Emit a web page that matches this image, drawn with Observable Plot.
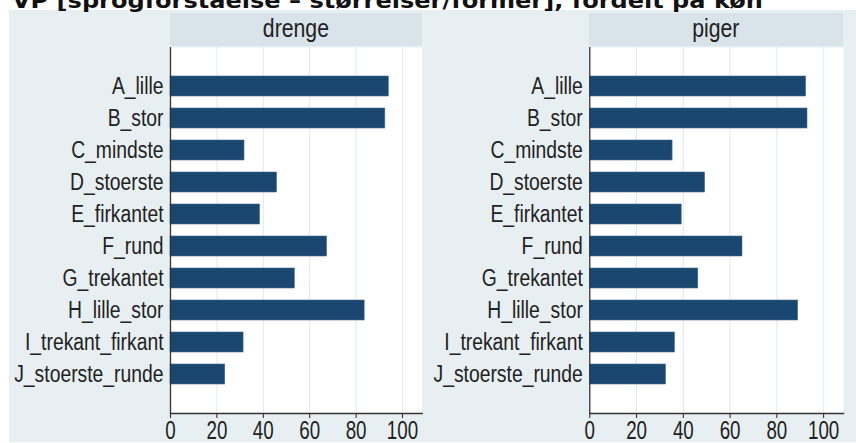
<!DOCTYPE html>
<html><head><meta charset="utf-8">
<script src="https://cdn.jsdelivr.net/npm/d3@7"></script>
<script src="https://cdn.jsdelivr.net/npm/@observablehq/plot@0.6"></script>
<style>
body{margin:0;background:#fff;}
#wrap{position:relative;width:856px;height:443px;overflow:hidden;background:#fff;}
#bg{position:absolute;left:9px;top:10px;width:847px;height:432px;background:#e8eff2;}
.strip{position:absolute;background:#d9e4ea;top:13px;height:33px;font-family:"Liberation Sans",Arial,sans-serif;font-size:25px;color:#222;text-align:center;line-height:31px;}
.strip span{display:inline-block;transform:scaleX(0.85);}
.panel{position:absolute;top:0;}
#title{position:absolute;left:0;top:0;}
</style></head><body>
<div id="wrap"><div id="bg"></div></div>
<script>
const titleText = "VP [sprogforståelse – størrelser/former], fordelt på køn";
const categories = ["A_lille","B_stor","C_mindste","D_stoerste","E_firkantet","F_rund","G_trekantet","H_lille_stor","I_trekant_firkant","J_stoerste_runde"];
const groups = ["drenge","piger"];
const drenge = [94.1, 92.6, 31.9, 45.9, 38.6, 67.5, 53.6, 83.7, 31.5, 23.6];
const piger  = [92.5, 93.1, 35.4, 49.3, 39.3, 65.3, 46.4, 89.1, 36.4, 32.6];
const xTicks = [0, 20, 40, 60, 80, 100];

const seriesByGroup = {drenge, piger};
const wrap = document.getElementById("wrap");
const font = '"Liberation Sans",Arial,sans-serif';

// layout of the two panels (page coordinates)
const panels = [
  {left: 0,   width: 428, marginLeft: 170,   marginRight: 6.3},
  {left: 428, width: 428, marginLeft: 161.3, marginRight: 13}
];

// horizontally condense text (the reference uses a narrow face)
function condense(textEl, s) {
  const L = textEl.getComputedTextLength();
  if (L > 0) {
    textEl.setAttribute("textLength", (L * s).toFixed(2));
    textEl.setAttribute("lengthAdjust", "spacingAndGlyphs");
  }
}

groups.forEach((g, i) => {
  const p = panels[i];
  const data = categories.map((c, k) => ({cat: c, value: seriesByGroup[g][k]}));
  const chart = Plot.plot({
    width: p.width, height: 443,
    marginLeft: p.marginLeft, marginRight: p.marginRight,
    marginTop: 47, marginBottom: 30,
    style: {background: "transparent", fontFamily: font, fontSize: "23px", color: "#222", overflow: "visible"},
    x: {domain: [0, 108.5], ticks: xTicks, label: null, tickSize: 5, tickPadding: 3},
    y: {domain: categories, paddingInner: 0.367, paddingOuter: 0.83, label: null, tickSize: 0, tickPadding: 7},
    marks: [
      Plot.frame({fill: "white", stroke: "none"}),
      Plot.gridX(xTicks.slice(1), {stroke: "#e1eaee", strokeOpacity: 1}),
      Plot.barX(data, {x: "value", y: "cat", fill: "#1a476f", stroke: "#4a6f90", strokeWidth: 0.6}),
      Plot.ruleX([0], {stroke: "#333", strokeWidth: 1.3}),
      Plot.frame({anchor: "bottom", stroke: "#333", strokeWidth: 1.3})
    ]
  });
  chart.classList.add("panel");
  chart.style.left = p.left + "px";
  wrap.appendChild(chart);
  chart.querySelectorAll('g[aria-label="x-axis tick label"] text').forEach(t => t.setAttribute("font-size", 25));
  chart.querySelectorAll('g[aria-label="y-axis tick label"] text').forEach(t => condense(t, 0.84));
  chart.querySelectorAll('g[aria-label="x-axis tick label"] text').forEach(t => condense(t, 0.75));

  const strip = document.createElement("div");
  strip.className = "strip";
  const span = document.createElement("span");
  span.textContent = g;
  strip.appendChild(span);
  strip.style.left = (p.left + p.marginLeft) + "px";
  strip.style.width = (p.width - p.marginLeft - p.marginRight) + "px";
  wrap.appendChild(strip);
});

// title (cropped at the top like the reference)
const ns = "http://www.w3.org/2000/svg";
const tsvg = document.createElementNS(ns, "svg");
tsvg.setAttribute("id", "title");
tsvg.setAttribute("width", 856);
tsvg.setAttribute("height", 14);
const t = document.createElementNS(ns, "text");
t.setAttribute("x", 12);
t.setAttribute("y", 7.5);
t.setAttribute("font-family", '"DejaVu Sans",sans-serif');
t.setAttribute("font-weight", "bold");
t.setAttribute("font-size", 22);
t.setAttribute("fill", "#111");
t.setAttribute("textLength", 751);
t.setAttribute("lengthAdjust", "spacingAndGlyphs");
t.textContent = titleText;
tsvg.appendChild(t);
wrap.appendChild(tsvg);
</script>
</body></html>
